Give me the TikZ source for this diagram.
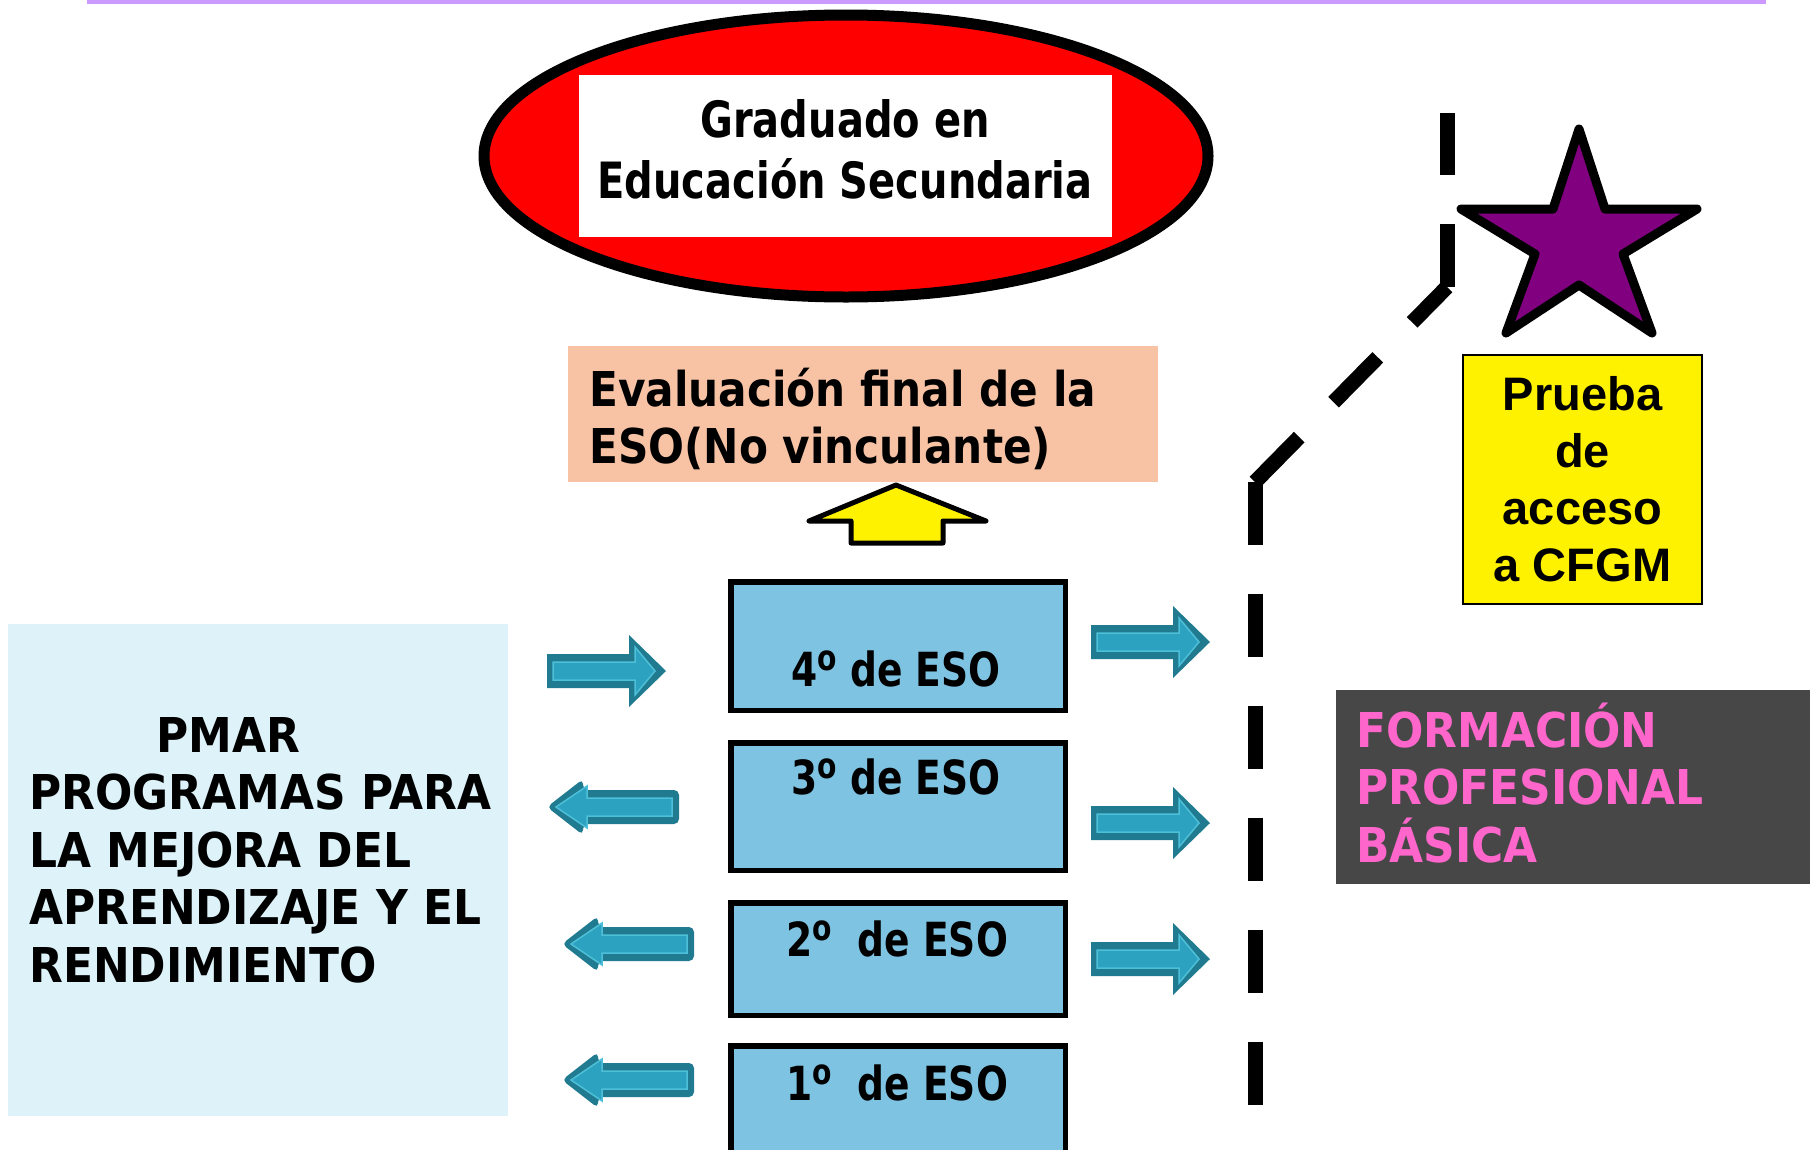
\documentclass[tikz,border=0pt]{standalone}
\usepackage{fontspec}
\usepackage{graphicx}
\usetikzlibrary{shapes.geometric}
\setmainfont{DejaVu Sans}
\newfontfamily\fverd[FakeStretch=0.88]{DejaVu Sans}
\newfontfamily\fverdup[FakeStretch=0.915]{DejaVu Sans}
\newfontfamily\fcond[FakeStretch=0.8]{DejaVu Sans}
\newfontfamily\farial{Liberation Sans}
\newcommand\ordsup{\raisebox{0.33em}{\scalebox{0.75}{o}}}
\definecolor{toplinec}{HTML}{CC99FF}
\definecolor{esofill}{HTML}{7FC3E2}
\definecolor{pmarfill}{HTML}{DDF3F9}
\definecolor{peach}{HTML}{F8C3A5}
\definecolor{fpgray}{HTML}{474747}
\definecolor{fppink}{HTML}{FF66CC}
\definecolor{starpurple}{HTML}{800080}
\definecolor{tealdark}{HTML}{217B90}
\definecolor{teallight}{HTML}{2DA2C0}
\definecolor{tealline}{HTML}{4DBFD8}
\tikzset{
  esobox/.style={draw=black, line width=5.5pt, fill=esofill, minimum width=334.5pt},
  esotxt/.style={font=\fcond\bfseries\fontsize{47}{56}\selectfont, anchor=base},
  verdtxt/.style={font=\fverd\bfseries\fontsize{48}{57.5}\selectfont, align=left, anchor=west, inner sep=0pt},
  verduptxt/.style={font=\fverdup\bfseries\fontsize{48}{57.5}\selectfont, align=left, anchor=west, inner sep=0pt},
  cutline/.style={line width=15pt, dash pattern=on 63pt off 49pt},
  rblock/.pic={
    \fill[tealdark] (0,-17) -- (82,-17) -- (82,-36) -- (119,0) -- (82,36) -- (82,17) -- (0,17) -- cycle;
    \filldraw[fill=teallight, draw=tealline, line width=1.5pt] (6,-9) -- (88,-9) -- (88,-24) -- (108,0) -- (88,24) -- (88,9) -- (6,9) -- cycle;
  },
  lblock/.pic={
    \fill[tealdark, rounded corners=5pt] (0,0) -- (36,-28) -- (36,-17) -- (132,-17) -- (132,17) -- (36,17) -- (36,28) -- cycle;
    \filldraw[fill=teallight, draw=tealline, line width=1.5pt] (9,0) -- (40,-21) -- (40,-9) -- (125,-9) -- (125,9) -- (40,9) -- (40,21) -- cycle;
  }
}
\begin{document}
\begin{tikzpicture}[x=1pt,y=-1pt]
\useasboundingbox (0,0) rectangle (1810,1149);
\clip (0,0) rectangle (1810,1149);
\fill[white] (0,0) rectangle (1810,1149);
% top line
\draw[toplinec, line width=4pt] (87,1.5) -- (1766,1.5);
% ellipse
\node[ellipse, draw=black, line width=11pt, fill=red, minimum width=724pt, minimum height=282pt, inner sep=0pt] (ell) at (846,156) {};
\node[fill=white, minimum width=533pt, minimum height=162pt, inner sep=0pt] (gradbox) at (845.5,156) {};
\node[font=\fcond\bfseries\fontsize{50}{61}\selectfont, align=center, inner sep=0pt] (gradtxt) at (845,149) {Graduado en\\Educación Secundaria};
% evaluation box
\node[fill=peach, minimum width=590pt, minimum height=136pt, inner sep=0pt] (evalbox) at (863,414) {};
\node[verdtxt] (evaltxt) at (589,419) {Evaluación final de la\\ESO(No vinculante)};
% yellow up arrow
\filldraw[fill=yellow, draw=black, line width=5pt, line join=round] (896,485) -- (986,521) -- (943,521) -- (943,543) -- (851,543) -- (851,521) -- (809,521) -- cycle;
% ESO boxes
\node[esobox, minimum height=128.5pt] (b4) at (898,646) {};
\node[esobox, minimum height=127.5pt] (b3) at (898,806.5) {};
\node[esobox, minimum height=112.5pt] (b2) at (898,959) {};
\node[esobox, minimum height=111.5pt] (b1) at (898,1101.5) {};
\node[esotxt] (t4) at (896,686) {4\ordsup{} de ESO};
\node[esotxt] (t3) at (896,794) {3\ordsup{} de ESO};
\node[esotxt] (t2) at (897,956) {2\ordsup\ \ de ESO};
\node[esotxt] (t1) at (897,1100) {1\ordsup\ \ de ESO};
% PMAR box
\node[fill=pmarfill, minimum width=500pt, minimum height=492pt, inner sep=0pt] (pmarbox) at (258,870) {};
\node[verduptxt] (pmartxt) at (29,850) {\hspace*{127pt}PMAR\\PROGRAMAS PARA\\LA MEJORA DEL\\APRENDIZAJE Y EL\\RENDIMIENTO};
% block arrows
\pic at (547,671) {rblock};
\pic at (1091,642) {rblock};
\pic at (1091,823) {rblock};
\pic at (1091,959) {rblock};
\pic at (547,807) {lblock};
\pic at (562,944) {lblock};
\pic at (562,1080) {lblock};
% dashed path
\coordinate (c1) at (1255,1105);
\coordinate (c2) at (1255,482);
\coordinate (c3) at (1447,287);
\coordinate (c4) at (1447,113);
\draw[cutline] (c2) -- (c1);
\draw[cutline] (c2) -- (c3);
\draw[cutline] (c3) -- (c4);
% star
\filldraw[fill=starpurple, draw=black, line width=9pt, line join=round]
  (1579,129) -- (1605,209) -- (1697,209) -- (1623,254) -- (1652,333) -- (1579,285) -- (1506,333) -- (1535,254) -- (1461,209) -- (1553,209) -- cycle;
% prueba box
\node[draw=black, line width=2pt, fill=yellow, minimum width=239pt, minimum height=249pt, inner sep=0pt,
  font=\farial\bfseries\fontsize{47}{57}\selectfont, align=center] (prueba) at (1582.5,479.5) {Prueba\\de\\acceso\\a CFGM};
% FP basica box
\node[fill=fpgray, minimum width=500pt, minimum height=194pt, inner sep=0pt] (fpbox) at (1586,787) {};
\node[verduptxt, text=fppink] (fptxt) at (1356,783) {FORMACIÓN\\PROFESIONAL\\BÁSICA};
\end{tikzpicture}
\end{document}
